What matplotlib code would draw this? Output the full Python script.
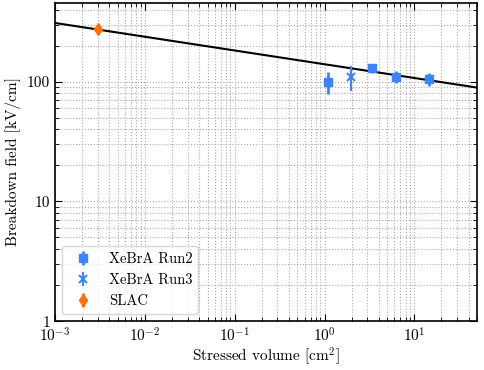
import matplotlib
matplotlib.use('Agg')
import matplotlib.pyplot as plt
import numpy as np

plt.rcParams['font.family'] = 'serif'
plt.rcParams['font.serif'] = ['cmr10']
plt.rcParams['mathtext.fontset'] = 'cm'
plt.rcParams['axes.formatter.use_mathtext'] = True
plt.rcParams['font.size'] = 11

# Data
run2_vol = [1.1, 3.4, 6.3, 14.5]
run2_field = [100, 130, 110, 105]
run2_err = [21, 12, 12, 13]

run3_vol = [1.95]
run3_field = [110]
run3_err = [26]

slac_vol = [0.003]
slac_field = [275]
slac_err = [20]

# Power-law fit E = c * V^(-k)
fit_c = 140
fit_k = 0.115

blue = '#3d85f5'
orange = '#ff7010'

fig, ax = plt.subplots(figsize=(4.85, 3.7), dpi=100)

vv = np.logspace(-3, np.log10(50), 200)
ax.plot(vv, fit_c * vv ** (-fit_k), color='black', lw=1.5, zorder=2)

ax.errorbar(run2_vol, run2_field, yerr=run2_err, fmt='s', color=blue,
            ms=6, elinewidth=2, capsize=0, label='XeBrA Run2', zorder=3)
ax.errorbar(run3_vol, run3_field, yerr=run3_err, fmt='x', color=blue,
            ms=6, mew=1.5, elinewidth=1.5, capsize=0, label='XeBrA Run3', zorder=3)
ax.errorbar(slac_vol, slac_field, yerr=slac_err, fmt='d', color=orange,
            ms=6, elinewidth=2, capsize=0, label='SLAC', zorder=3)

ax.set_xscale('log')
ax.set_yscale('log')
ax.set_xlim(1e-3, 50)
ax.set_ylim(1, 455)
ax.set_yticks([1, 10, 100])
ax.set_yticklabels(['1', '10', '100'])

ax.grid(True, which='both', ls=':', color='#aaaaaa', lw=0.8)
ax.tick_params(which='both', direction='in', top=True, right=True)
ax.tick_params(which='major', length=5)
ax.tick_params(which='minor', length=3)

ax.set_xlabel(r'Stressed volume [cm$^2$]', labelpad=1)
ax.set_ylabel('Breakdown field [kV/cm]')
ax.legend(loc='lower left', fancybox=True, fontsize=10.5, handlelength=2.0,
          borderpad=0.4, labelspacing=0.5)

for s in ax.spines.values():
    s.set_linewidth(1.2)

fig.subplots_adjust(left=0.113, right=0.984, top=0.992, bottom=0.132)
fig.savefig('out.png', dpi=100)
